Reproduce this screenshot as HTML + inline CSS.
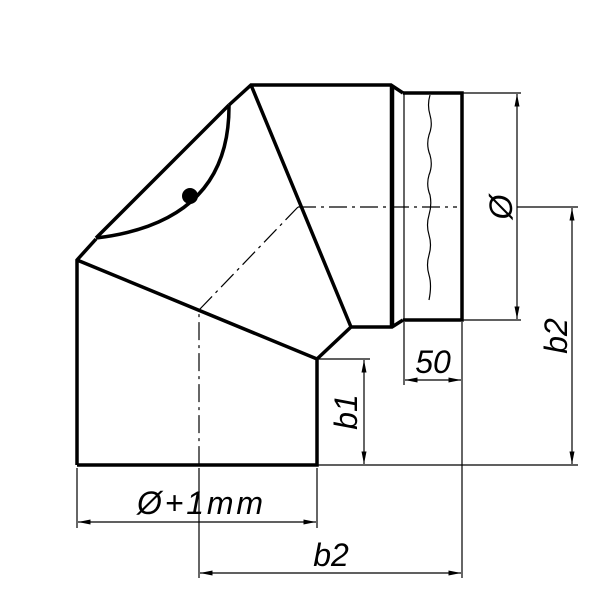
<!DOCTYPE html>
<html><head><meta charset="utf-8"><style>body{margin:0;background:#fff}svg{display:block}</style></head><body>
<svg width="600" height="600" viewBox="0 0 600 600" xmlns="http://www.w3.org/2000/svg">
<defs><marker id="a" viewBox="0 0 10 4" refX="10" refY="2" markerWidth="13" markerHeight="5" orient="auto-start-reverse" markerUnits="userSpaceOnUse"><path d="M0,0 L10,2 L0,4z" fill="#000"/></marker></defs>
<g fill="none" stroke="#000" stroke-width="3.5" stroke-linejoin="miter">
<path d="M77,465 V260 L96,239 M229,105 L251,85 H391 L403,93 M77,260 L317,359 L351,327 H392 L403,320 M251,85 L351,327 M317,359 V465 H77"/>
<path d="M392,86 V327" stroke-width="4.5"/>
<path d="M96,238 L229,105"/>
<path d="M229,105 Q230,222 96,238"/>
<path d="M403,93 H462 V320 H403"/>
</g>
<circle cx="190" cy="196" r="8" fill="#000"/>
<g fill="none" stroke="#000" stroke-width="1.2">
<path d="M404,93 V320"/>
<path d="M430,95 q-3,10 0,20 q3,10 -1,20 q-3,10 1,20 q3,10 -1,20 q-3,10 1,20 q2,10 -1,20 q-3,10 0,20 q3,10 0,20 q-3,10 0,20 q3,10 0,25"/>
<path d="M298,207 H457 M298,207 L199,310 V465" stroke-dasharray="18,5,3,5"/>
<path d="M462,93 H521 M462,320 H521 M517,207 H578 M317,465 H578 M317,359 H370 M404,322 V385 M462,322 V578 M77,468 V528 M317,468 V528 M199,468 V578"/>
<path d="M517,94 V319" marker-start="url(#a)" marker-end="url(#a)"/>
<path d="M572,208 V464" marker-start="url(#a)" marker-end="url(#a)"/>
<path d="M364,360 V464" marker-start="url(#a)" marker-end="url(#a)"/>
<path d="M405,380 H461" marker-start="url(#a)" marker-end="url(#a)"/>
<path d="M78,522 H316" marker-start="url(#a)" marker-end="url(#a)"/>
<path d="M200,573 H461" marker-start="url(#a)" marker-end="url(#a)"/>
</g>
<g font-family="Liberation Sans, sans-serif" font-style="italic" font-size="32" fill="#000">
<text x="433" y="373" text-anchor="middle">50</text>
<text x="200" y="514" text-anchor="middle" textLength="126">Ø+1mm</text>
<text x="331" y="566" text-anchor="middle">b2</text>
<text transform="translate(357,412) rotate(-90)" text-anchor="middle">b1</text>
<text transform="translate(567,336) rotate(-90)" text-anchor="middle">b2</text>
<text transform="translate(512,207) rotate(-90)" text-anchor="middle">Ø</text>
</g>
</svg>
</body></html>
